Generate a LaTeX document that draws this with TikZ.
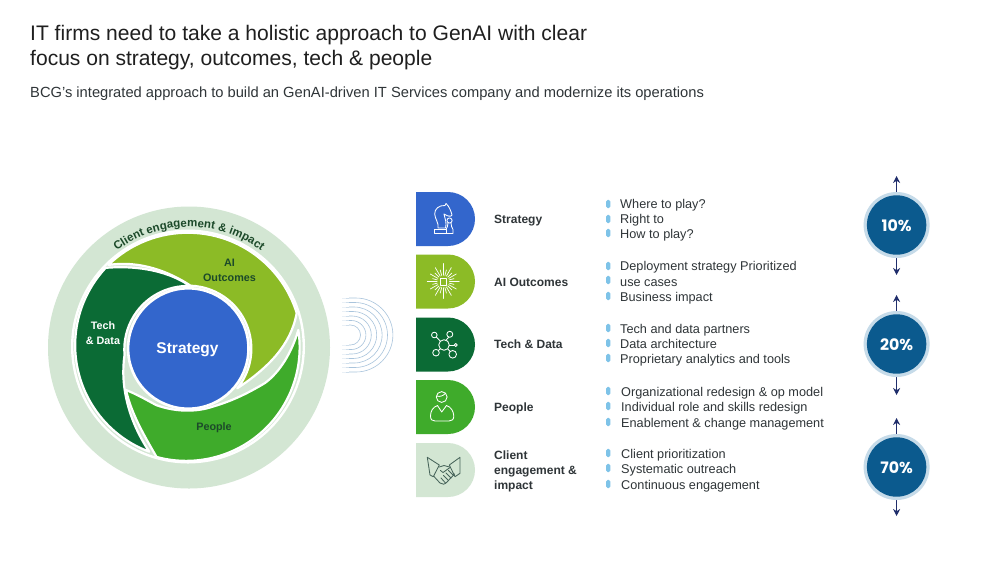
\documentclass[tikz,border=0pt]{standalone}
\usepackage{fontspec}
\setmainfont{Liberation Sans}
\newfontfamily\popf{Poppins}
\usetikzlibrary{arrows.meta,decorations.text}
\definecolor{cblue}{HTML}{3366CC}
\definecolor{cai}{HTML}{8CBB26}
\definecolor{ctech}{HTML}{0B6B35}
\definecolor{cpeople}{HTML}{3FAB2B}
\definecolor{cpale}{HTML}{D3E6D3}
\definecolor{ctxt}{HTML}{2F3538}
\definecolor{cdkgreen}{HTML}{1C4A2A}
\definecolor{chand}{HTML}{47645A}
\definecolor{cbul}{HTML}{7EC3E8}
\definecolor{cnavy}{HTML}{1F2D6B}
\definecolor{cdisc}{HTML}{0B5A8E}
\definecolor{cring}{HTML}{C6DBE9}
\definecolor{crip}{HTML}{A9C4DC}
\tikzset{
  lbl/.style={anchor=base west,inner sep=0pt,text=ctxt,font=\fontsize{12}{14}\selectfont\bfseries},
  itm/.style={anchor=base west,inner sep=0pt,text=ctxt,font=\fontsize{12.7}{15}\selectfont},
  seg/.style={draw=white,line width=2.2pt,line join=round},
  ico/.style={draw=white,line width=0.85pt,line cap=round,line join=round},
  hnd/.style={draw=chand,line width=0.85pt,line cap=round,line join=round},
  bul/.style={fill=cbul,rounded corners=1.8pt},
  dbl/.style={draw=cnavy,line width=1pt,{Stealth[length=7pt,width=7pt]}-{Stealth[length=7pt,width=7pt]}},
  pct/.style={inner sep=0pt,text=white,font=\fontsize{15.8}{18}\popf\bfseries},
  dl/.style={inner sep=0pt,align=center,font=\fontsize{10.8}{14.5}\selectfont\bfseries}
}
\newcommand{\dshape}[2]{\fill[#2] (416,#1) -- (448,#1) arc[start angle=-90,end angle=0,radius=27] arc[start angle=0,end angle=90,radius=27] -- (416,#1+54) -- cycle;}
\newcommand{\bpill}[1]{\fill[bul] (606,#1-4.2) rectangle (610.4,#1+4.2);}
\begin{document}
\begin{tikzpicture}[x=1pt,y=-1pt]
\useasboundingbox (0,0) rectangle (1000,563);
\fill[white] (0,0) rectangle (1000,563);
% title
\node[anchor=base west,inner sep=0pt,text=black!88,font=\fontsize{21.05}{25}\selectfont] (t1) at (30,40) {IT firms need to take a holistic approach to GenAI with clear};
\node[anchor=base west,inner sep=0pt,text=black!88,font=\fontsize{21.05}{25}\selectfont] (t2) at (30,65.5) {focus on strategy, outcomes, tech \& people};
\node[anchor=base west,inner sep=0pt,text=ctxt,font=\fontsize{14.7}{17}\selectfont] (t3) at (30,97) {BCG’s integrated approach to build an GenAI-driven IT Services company and modernize its operations};
% wheel
\fill[cpale] (189,347.5) circle[radius=141];
\draw[white,line width=2.4pt] (188,346.5) circle[radius=115.8];
\filldraw[fill=cai,seg] (108.3,265) arc[start angle=-134.2,end angle=-17.2,radius=114]
  .. controls (291,345) and (268,368) .. (237.3,388.3)
  arc[start angle=39,end angle=-88,radius=63]
  .. controls (170,272) and (140,260) .. (108.3,265) -- cycle;
\filldraw[fill=cpeople,seg] (298.3,330) arc[start angle=-8.8,end angle=105.1,radius=113.5]
  .. controls (142,432) and (131,412) .. (126,390)
  .. controls (136,394) and (145,399) .. (156,405)
  .. controls (175,412) and (195,412) .. (210,407.5)
  .. controls (225,403) and (240,398) .. (265,383)
  .. controls (280,372) and (292,352) .. (298.3,330) -- cycle;
\filldraw[fill=ctech,seg] (149.3,451.7) arc[start angle=110.3,end angle=223,radius=113.5]
  .. controls (140,265) and (170,272) .. (190,286)
  arc[start angle=-88,end angle=-185,radius=63.5]
  .. controls (120,385) and (128,420) .. (149.3,451.7) -- cycle;
\draw[white,line width=2.6pt,fill=cblue] (188.3,348.5) circle[radius=60.2];
\path[postaction={decorate,decoration={text along path,text align={align=center},
   text={|\fontsize{11.5}{14}\selectfont\bfseries\color{cdkgreen}|Client engagement {\&} impact}}}]
   (189,347.5) ++(-130:120.5) arc[start angle=-130,end angle=-50,radius=120.5];
\node[text=white,inner sep=0pt,font=\fontsize{15.5}{18}\selectfont\bfseries] (ws) at (187.5,350) {Strategy};
\node[dl,text=cdkgreen] (wa) at (229.5,270.5) {AI\\Outcomes};
\node[dl,text=white] (wt) at (103,333) {Tech\\\& Data};
\node[dl,text=cdkgreen] (wp) at (214,428) {People};
% ripple
\foreach \r in {10,14.5,19,23.5,28,32.5,37}{
  \draw[crip!25,line width=0.6pt] (342,335-\r) -- (346,335-\r);
  \draw[crip!55,line width=0.6pt] (346,335-\r) -- (349,335-\r);
  \draw[crip!25,line width=0.6pt] (342,335+\r) -- (346,335+\r);
  \draw[crip!55,line width=0.6pt] (346,335+\r) -- (349,335+\r);
  \draw[crip,line width=0.6pt] (349,335-\r) -- (348.5+0.2*\r,335-\r) arc[start angle=-90,end angle=90,radius=\r] -- (349,335+\r);
}
% D shapes
\dshape{192}{cblue}
\dshape{254.5}{cai}
\dshape{317.5}{ctech}
\dshape{380}{cpeople}
\dshape{443}{cpale}
% knight
\draw[ico] (438,228) .. controls (439,223) and (435,219) .. (434.7,214) .. controls (434.5,209) and (439,205) .. (445,205.5)
  -- (446,203.5) .. controls (449,206) and (451,211) .. (452,215) .. controls (451,217) and (448,216.5) .. (444,214)
  .. controls (445,219) and (447,223) .. (445.5,228) -- cycle;
\draw[ico] (434.5,229.5) rectangle (446,233.5);
\draw[ico] (449.5,220.5) circle[radius=2.6];
\draw[ico] (448,223) .. controls (448,226) and (447,227.5) .. (446,229.5) (451,223) .. controls (451,226) and (452,227.5) .. (453,229.5) -- (453,233.5) -- (446,233.5);
% chip
\draw[ico] (440,278) rectangle (446.7,285);
\foreach \a/\l in {0/16,15/11,30/15,45/12,60/16,75/12,90/17,105/12,120/16,135/12,150/15,165/11,180/16,195/11,210/15,225/12,240/16,255/12,270/18,285/12,300/16,315/12,330/15,345/11}{
  \draw[ico,line width=0.7pt] (443.3,281.5) ++(\a:6.2) -- ++(\a:\l-6.2);
}
% network
\draw[ico] (444,345) circle[radius=5.3];
\draw[ico] (434.3,335) circle[radius=2.8];
\draw[ico] (449.8,334.3) circle[radius=3];
\draw[ico] (455.7,345) circle[radius=1.5];
\draw[ico] (452.7,354.3) circle[radius=3.8];
\draw[ico] (436,352.7) circle[radius=3.3];
\draw[ico] (440.3,341.2) -- (436.3,337);
\draw[ico] (446,340.2) -- (448.8,337);
\draw[ico] (449.3,345) -- (454.2,345);
\draw[ico] (447.7,348.8) -- (450.2,351.5);
\draw[ico] (440.3,348.8) -- (438.5,350.5);
% person
\draw[ico] (441.7,397) circle[radius=5.4];
\draw[ico] (436.5,396) .. controls (440,397) and (443,396) .. (445.5,393.3);
\draw[ico] (437.5,405.5) .. controls (433,407) and (430.5,411) .. (430.5,416) .. controls (430.5,419.5) and (432,421) .. (435,421)
  -- (449,421) .. controls (452,421) and (453.8,419.5) .. (453.8,416) .. controls (453.5,411) and (451,407) .. (446.5,405.5) -- (441.7,412) -- cycle;
% handshake
\draw[hnd] (427.3,457.3) -- (439.3,465) -- (433.3,476.7) -- (430,475) -- cycle;
\draw[hnd] (460,457.3) -- (449.3,465) -- (455,476.7) -- (460,473.3) -- cycle;
\draw[hnd] (439.3,467) -- (444,465.5) -- (449.5,467);
\draw[hnd] (450,467.5) -- (443,472.5) -- (440.5,470.5);
\draw[hnd] (454.5,474) -- (447,482) .. controls (445,484.5) and (442,485) .. (440,483) -- (434,476.5);
\draw[hnd] (448.5,470.5) -- (453.5,475.5) (446,473) -- (451,478) (443.5,475.5) -- (448.5,480.5) (441,478) -- (445.5,483);
% row labels
\node[lbl] (l1) at (494,223.5) {Strategy};
\node[lbl] (l2) at (494,286) {AI Outcomes};
\node[lbl] (l3) at (494,348.5) {Tech \& Data};
\node[lbl] (l4) at (494,411.5) {People};
\node[lbl] (l5a) at (494,459) {Client};
\node[lbl] (l5b) at (494,474.5) {engagement \&};
\node[lbl] (l5c) at (494,489.5) {impact};
% bullets
\foreach \y in {204,219,233,266,280,296,328,343,358,391,406,422,453,468,484}{\bpill{\y}}
% items
\node[itm] (i1) at (620,208) {Where to play?};
\node[itm] (i2) at (620,223) {Right to};
\node[itm] (i3) at (620,238.5) {How to play?};
\node[itm] (i4) at (620,270.5) {Deployment strategy Prioritized};
\node[itm] (i5) at (620,286) {use cases};
\node[itm] (i6) at (620,301) {Business impact};
\node[itm] (i7) at (620,333) {Tech and data partners};
\node[itm] (i8) at (620,348) {Data architecture};
\node[itm] (i9) at (620,363.5) {Proprietary analytics and tools};
\node[itm] (i10) at (621,396.5) {Organizational redesign \& op model};
\node[itm] (i11) at (621,411.5) {Individual role and skills redesign};
\node[itm] (i12) at (621,427) {Enablement \& change management};
\node[itm] (i13) at (621,458.5) {Client prioritization};
\node[itm] (i14) at (621,473.5) {Systematic outreach};
\node[itm] (i15) at (621,489) {Continuous engagement};
% percent discs
\foreach \n/\yc/\ya/\yb/\txt in {a/225/176/275/10\%,b/344/295/395/20\%,c/467/418/516/70\%}{
  \coordinate (\n t) at (896.6,\ya);
  \coordinate (\n b) at (896.6,\yb);
  \draw[dbl] (\n t) -- (\n b);
  \fill[cring] (896.6,\yc) circle[radius=33];
  \fill[cdisc] (896.6,\yc) circle[radius=29.7];
  \node[pct] (\n p) at (896.6,\yc+0.5) {\txt};
}
\end{tikzpicture}
\end{document}
